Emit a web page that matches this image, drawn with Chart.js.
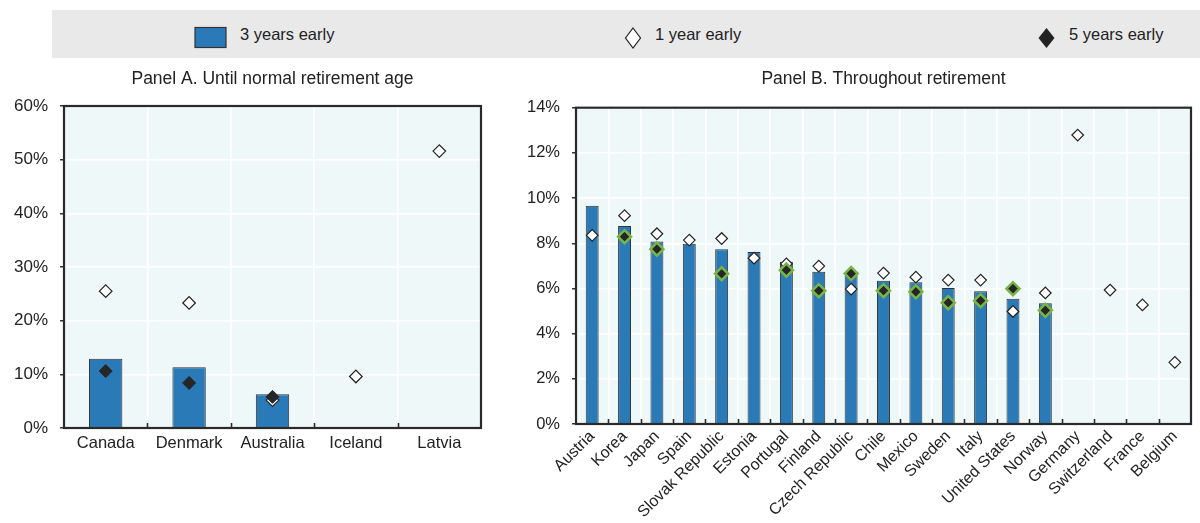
<!DOCTYPE html>
<html>
<head>
<meta charset="utf-8">
<script src="https://cdn.jsdelivr.net/npm/chart.js@4.4.1/dist/chart.umd.min.js"></script>
<style>
  body { margin: 0; width: 1200px; height: 523px; position: relative; overflow: hidden; background: #fff;
         font-family: "Liberation Sans", Arial, sans-serif; color: #222; }
  #legend { position: absolute; left: 52px; top: 10px; width: 1148px; height: 48px; background: #e9e9ea; }
  .item { position: absolute; top: 0; height: 48px; font-size: 16.5px; line-height: 48px; }
  .item svg { position: absolute; top: 0; }
  .item span { position: absolute; top: 0; white-space: nowrap; }
  #boxA { position: absolute; left: 0; top: 60px; width: 490px; height: 463px; }
  #boxB { position: absolute; left: 500px; top: 60px; width: 700px; height: 463px; }
</style>
</head>
<body>
<div id="legend">
  <div class="item" style="left:142px;">
    <svg width="34" height="48"><rect x="1" y="17.5" width="31" height="20" fill="#2a7ab8" stroke="#333" stroke-width="1.2"/></svg>
    <span style="left:46px;">3 years early</span>
  </div>
  <div class="item" style="left:571px;">
    <svg width="20" height="48"><path d="M10 18 L17.5 28 L10 38 L2.5 28 Z" fill="#fff" stroke="#222" stroke-width="1.2"/></svg>
    <span style="left:32px;">1 year early</span>
  </div>
  <div class="item" style="left:985px;">
    <svg width="20" height="48"><path d="M9.5 18 L17.5 28 L9.5 38 L1.5 28 Z" fill="#222"/></svg>
    <span style="left:32px;">5 years early</span>
  </div>
</div>
<div id="boxA"><canvas id="chartA" width="490" height="463"></canvas></div>
<div id="boxB"><canvas id="chartB" width="700" height="463"></canvas></div>

<script>
// Panel A: until normal retirement age
const countriesA = ['Canada', 'Denmark', 'Australia', 'Iceland', 'Latvia'];
const threeYearsA = [12.9, 11.3, 6.3, null, null];
const oneYearA = [25.5, 23.3, 5.2, 9.6, 51.6];
const fiveYearsA = [10.6, 8.4, 5.8, null, null];
const ticksA = [0, 10, 20, 30, 40, 50, 60];

// Panel B: throughout retirement
const countriesB = ['Austria', 'Korea', 'Japan', 'Spain', 'Slovak Republic', 'Estonia', 'Portugal', 'Finland',
  'Czech Republic', 'Chile', 'Mexico', 'Sweden', 'Italy', 'United States', 'Norway', 'Germany',
  'Switzerland', 'France', 'Belgium'];
const threeYearsB = [9.66, 8.76, 8.08, 7.98, 7.74, 7.61, 7.18, 6.74, 6.6, 6.34, 6.27, 6.02, 5.88, 5.54, 5.35,
  null, null, null, null];
const oneYearB = [8.35, 9.22, 8.42, 8.14, 8.21, 7.34, 7.09, 6.99, 5.97, 6.68, 6.5, 6.37, 6.37, 4.98, 5.8,
  12.79, 5.93, 5.27, 2.73];
const fiveYearsB = [null, 8.29, 7.74, null, 6.65, null, 6.81, 5.9, 6.66, 5.9, 5.85, 5.37, 5.46, 5.99, 5.03,
  null, null, null, null];
const ticksB = [0, 2, 4, 6, 8, 10, 12, 14];

const BAR_BLUE = '#2a7ab8';
const PLOT_BG = '#eff8f8';
const FONT = '"Liberation Sans", Arial, sans-serif';

// fond du graphique, cadre et petites graduations internes
const plotFrame = {
  id: 'plotFrame',
  beforeDraw(chart) {
    const a = chart.chartArea, c = chart.ctx;
    c.save();
    c.fillStyle = PLOT_BG;
    c.fillRect(a.left, a.top, a.right - a.left, a.bottom - a.top);
    c.restore();
  },
  afterDraw(chart) {
    const a = chart.chartArea, c = chart.ctx, x = chart.scales.x;
    c.save();
    c.strokeStyle = '#2a2a2a';
    c.lineWidth = 1.6;
    for (let i = 0; i < x.ticks.length - 1; i++) {
      const px = Math.round((x.getPixelForValue(i) + x.getPixelForValue(i + 1)) / 2) + 0.5;
      c.beginPath();
      c.moveTo(px, a.bottom);
      c.lineTo(px, a.bottom - 5);
      c.stroke();
    }
    c.lineWidth = 2.2;
    c.strokeRect(a.left, a.top, a.right - a.left, a.bottom - a.top);
    c.restore();
  }
};

function makeChart(id, opts) {
  return new Chart(document.getElementById(id), {
    type: 'bar',
    data: {
      labels: opts.labels,
      datasets: [
        {
          type: 'line', label: '5 years early', data: opts.five, order: 0, showLine: false,
          pointStyle: 'rectRot', pointRadius: 6.5,
          pointBackgroundColor: '#262626', pointBorderColor: opts.fiveBorder, pointBorderWidth: opts.fiveBorderWidth
        },
        {
          type: 'line', label: '1 year early', data: opts.one, order: 1, showLine: false,
          pointStyle: 'rectRot', pointRadius: opts.oneRadius,
          pointBackgroundColor: '#fff', pointBorderColor: '#222', pointBorderWidth: 1.2
        },
        {
          type: 'bar', label: '3 years early', data: opts.three, order: 2,
          backgroundColor: BAR_BLUE, borderColor: '#333', borderWidth: 1,
          barPercentage: 0.4, categoryPercentage: 1
        }
      ]
    },
    options: {
      responsive: false,
      animation: false,
      layout: { padding: { left: 0, right: opts.padRight, top: 0, bottom: 0 } },
      plugins: {
        legend: { display: false },
        tooltip: { enabled: false },
        title: {
          display: true, text: opts.title, color: '#222', fullSize: false,
          font: { family: FONT, size: 17.5, weight: 'normal' },
          padding: { top: 9, bottom: opts.titleBottom }
        }
      },
      scales: {
        x: {
          offset: true,
          grid: { color: '#ffffff', lineWidth: 1.5, offset: true, drawTicks: false },
          border: { display: false },
          ticks: {
            color: '#222', font: { family: FONT, size: opts.xFont }, padding: opts.xPad,
            autoSkip: false, maxRotation: opts.rot, minRotation: opts.rot
          },
          afterFit(s) { s.height = opts.xHeight; }
        },
        y: {
          min: opts.ticks[0], max: opts.ticks[opts.ticks.length - 1],
          grid: { color: '#ffffff', lineWidth: 1.5, tickColor: '#333', tickLength: 4, tickWidth: 1.5 },
          border: { display: false },
          afterBuildTicks(s) { s.ticks = opts.ticks.map(v => ({ value: v })); },
          ticks: {
            color: '#222', font: { family: FONT, size: opts.yFont }, padding: 12,
            callback: v => v + '%'
          },
          afterFit(s) { s.width = opts.yWidth; }
        }
      }
    },
    plugins: [plotFrame]
  });
}

makeChart('chartA', {
  labels: countriesA, three: threeYearsA, one: oneYearA, five: fiveYearsA, ticks: ticksA,
  title: 'Panel A. Until normal retirement age',
  fiveBorder: '#262626', fiveBorderWidth: 1, oneRadius: 6.3,
  padRight: 9, yWidth: 64, xHeight: 95, titleBottom: 16, xPad: 6, rot: 0, xFont: 16.5, yFont: 17
});

makeChart('chartB', {
  labels: countriesB, three: threeYearsB, one: oneYearB, five: fiveYearsB, ticks: ticksB,
  title: 'Panel B. Throughout retirement',
  fiveBorder: '#78b446', fiveBorderWidth: 2.5, oneRadius: 5.8,
  padRight: 3, yWidth: 76, xHeight: 99, titleBottom: 17.7, xPad: 3, rot: 45, xFont: 16, yFont: 16.5
});
</script>
</body>
</html>
